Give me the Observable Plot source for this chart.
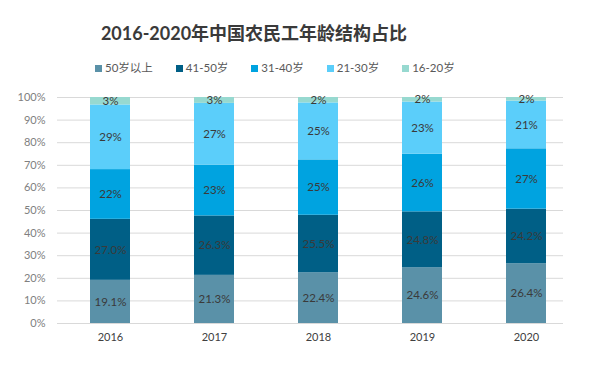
<!DOCTYPE html>
<html>
<head>
<meta charset="utf-8">
<script src="https://cdn.jsdelivr.net/npm/d3@7"></script>
<script src="https://cdn.jsdelivr.net/npm/@observablehq/plot@0.6"></script>
<style>
  html, body { margin: 0; padding: 0; background: #fff; }
  body { width: 600px; height: 376px; position: relative; overflow: hidden;
         font-family: Lato, "Noto Sans CJK SC", sans-serif; }
  #title { position: absolute; top: 21px; left: 0; width: 508px; text-align: center;
           font: bold 18px/24px Lato, "Noto Sans CJK SC", sans-serif; color: #3a3a3a; }
  #legend { position: absolute; top: 60px; left: 95px; height: 16px; display: flex; gap: 23px;
            font: 11.5px/16px Lato, "Noto Sans CJK SC", sans-serif; color: #595959; }
  #legend span.item { display: flex; align-items: center; white-space: nowrap; }
  #legend span.sw { display: inline-block; width: 7px; height: 7px; margin-right: 3px; }
  #chart { position: absolute; top: 80px; left: 0; }
</style>
</head>
<body>
<div id="title">2016-2020年中国农民工年龄结构占比</div>
<div id="legend"></div>
<div id="chart"></div>
<script>
const years = ["2016", "2017", "2018", "2019", "2020"];
const series = ["50岁以上", "41-50岁", "31-40岁", "21-30岁", "16-20岁"];
const colors = ["#5a91a8", "#005f86", "#00a3e0", "#5bcefa", "#97d9d0"];
// percentages per series, per year
const age50plus = [19.1, 21.3, 22.4, 24.6, 26.4];
const age41to50 = [27.0, 26.3, 25.5, 24.8, 24.2];
const age31to40 = [22.0, 22.5, 24.5, 25.5, 26.7];
const age21to30 = [28.6, 27.3, 25.2, 23.1, 21.1];
const age16to20 = [3.3, 2.6, 2.4, 2.0, 1.6];
const decimals = [1, 1, 0, 0, 0];
const yTicks = [0, 10, 20, 30, 40, 50, 60, 70, 80, 90, 100];

const valuesBySeries = [age50plus, age41to50, age31to40, age21to30, age16to20];
const rows = [];
series.forEach((s, i) => {
  years.forEach((y, j) => {
    const v = valuesBySeries[i][j];
    rows.push({year: y, series: s, value: v,
      label: (decimals[i] ? v.toFixed(1) : String(Math.round(v + 1e-9))) + "%"});
  });
});

// legend
const legend = document.getElementById("legend");
series.forEach((s, i) => {
  const item = document.createElement("span");
  item.className = "item";
  item.innerHTML = `<span class="sw" style="background:${colors[i]}"></span>${s}`;
  legend.appendChild(item);
});

const chart = Plot.plot({
  width: 600,
  height: 296,
  marginTop: 17,
  marginBottom: 53,
  marginLeft: 57,
  marginRight: 37,
  style: {fontFamily: "Lato, 'Noto Sans CJK SC', sans-serif", fontSize: "11px", background: "transparent"},
  x: {domain: years, range: [57, 579], paddingInner: 0.62, paddingOuter: 0.31, label: null},
  y: {domain: [0, 100], label: null},
  color: {domain: series, range: colors},
  marks: [
    Plot.ruleY(yTicks, {stroke: "#d9d9d9", strokeWidth: 1}),
    Plot.barY(rows, Plot.stackY({order: series}, {x: "year", y: "value", z: "series", fill: "series"})),
    Plot.text(rows, Plot.stackY({order: series}, {x: "year", y: "value", z: "series", text: "label",
      fill: "#3a3a3a", fontSize: 11.5})),
    Plot.axisY({ticks: yTicks, tickFormat: d => d + "%", tickSize: 0, tickPadding: 12,
      fill: "#808080", fontSize: 11, label: null}),
    Plot.axisX({tickSize: 0, tickPadding: 10, fill: "#404040", fontSize: 11, label: null})
  ]
});
document.getElementById("chart").appendChild(chart);
</script>
</body>
</html>
